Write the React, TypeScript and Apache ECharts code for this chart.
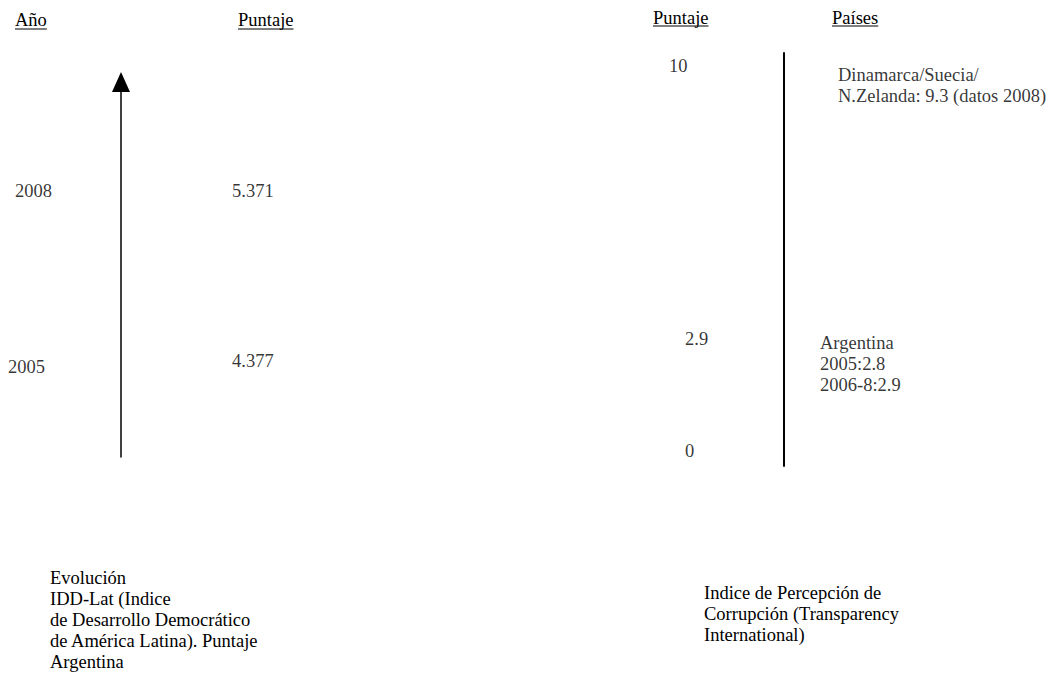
import React, { useEffect, useRef } from "react";
import * as echarts from "echarts";

// ---------------- data ----------------
const iddYears = [2005, 2008];
const iddYearLabels = ["2005", "2008"];
const iddScores = ["4.377", "5.371"];
const cpiTicks = [0, 2.9, 10];
const cpiTickLabels = ["0", "2.9", "10"];
const cpiNoteValues = [9.3, 2.9];
const cpiNoteTexts = [
  "Dinamarca/Suecia/\nN.Zelanda: 9.3 (datos 2008)",
  "Argentina\n2005:2.8\n2006-8:2.9",
];
const headerTexts = ["Año", "Puntaje", "Puntaje", "Países"];
const captionLeft = [
  "Evolución",
  "IDD-Lat (Indice",
  "de Desarrollo Democrático",
  "de América Latina). Puntaje",
  "Argentina",
];
const captionRight = [
  "Indice de Percepción de",
  "Corrupción (Transparency",
  "International)",
];

// ---------------- layout ----------------
const W = 1052;
const H = 682;
const FONT = "'Liberation Serif','Times New Roman',Times,serif";
const FS = 18.5;
const LH = 21;
const leftAxisX = 121;
const leftTop = 82;
const leftBottom = 457;
const yearMin = 2003.39;
const yearMax = 2009.89;
const rightAxisX = 784;
const rightTop = 53;
const rightBottom = 466;
const cpiMin = -0.39;
const cpiMax = 10.34;
const yearLabelX = [8, 15];
const yearLabelDy = [3, 0];
const scoreLabelX = 232;
const scoreLabelDy = [-3, 0];
const cpiTickX = [685, 685, 669];
const noteX = [838, 820];
const noteDy = [-8, 25];
const headerPos = [
  [15, 20, 29],
  [238, 20, 29],
  [653, 18, 26],
  [832, 18, 26],
];
const captionLeftPos = [50, 567];
const captionRightPos = [704, 582];

function measure(t: string): number {
  const c = document.createElement("canvas").getContext("2d");
  if (!c) return t.length * 8;
  c.font = `${FS}px "Liberation Serif"`;
  return c.measureText(t).width;
}

const textLabel = {
  show: true,
  position: "right" as const,
  distance: 0,
  color: "#000",
  fontFamily: FONT,
  fontSize: FS,
  lineHeight: LH,
  align: "left" as const,
};

export default function App() {
  const ref = useRef<HTMLDivElement>(null);
  useEffect(() => {
    if (!ref.current) return;
    const chart = echarts.init(ref.current, undefined, { renderer: "svg" });

    const graphic: any[] = [];
    headerTexts.forEach((t, i) => {
      const [x, y, uy] = headerPos[i];
      graphic.push({
        type: "text",
        x,
        y,
        style: { text: t, fill: "#000", fontFamily: FONT, fontSize: FS, align: "left", verticalAlign: "middle" },
      });
      graphic.push({
        type: "line",
        shape: { x1: x, y1: uy, x2: x + measure(t), y2: uy },
        style: { stroke: "#000", lineWidth: 1 },
      });
    });
    graphic.push({
      type: "text",
      x: captionLeftPos[0],
      y: captionLeftPos[1],
      style: { text: captionLeft.join("\n"), fill: "#000", fontFamily: FONT, fontSize: FS, lineHeight: LH, align: "left", verticalAlign: "top" },
    });
    graphic.push({
      type: "text",
      x: captionRightPos[0],
      y: captionRightPos[1],
      style: { text: captionRight.join("\n"), fill: "#000", fontFamily: FONT, fontSize: FS, lineHeight: LH, align: "left", verticalAlign: "top" },
    });

    chart.setOption({
      animation: false,
      backgroundColor: "#fff",
      grid: [
        { left: leftAxisX, right: 0, top: leftTop, height: leftBottom - leftTop, containLabel: false },
        { left: rightAxisX, right: 0, top: rightTop, height: rightBottom - rightTop, containLabel: false },
      ],
      xAxis: [
        { type: "value", gridIndex: 0, min: leftAxisX, max: W, show: false },
        { type: "value", gridIndex: 1, min: rightAxisX, max: W, show: false },
      ],
      yAxis: [
        {
          type: "value",
          gridIndex: 0,
          min: yearMin,
          max: yearMax,
          axisLine: {
            show: true,
            symbol: ["none", "triangle"],
            symbolSize: [18, 20],
            lineStyle: { color: "#000", width: 1.5 },
          },
          axisTick: { show: false },
          axisLabel: { show: false },
          splitLine: { show: false },
        },
        {
          type: "value",
          gridIndex: 1,
          min: cpiMin,
          max: cpiMax,
          axisLine: { show: true, lineStyle: { color: "#000", width: 2 } },
          axisTick: { show: false },
          axisLabel: { show: false },
          splitLine: { show: false },
        },
      ],
      graphic,
      series: [
        {
          type: "scatter",
          xAxisIndex: 0,
          yAxisIndex: 0,
          symbolSize: 0,
          clip: false,
          silent: true,
          data: iddYears.map((y, i) => ({
            value: [yearLabelX[i], y],
            name: iddYearLabels[i],
            label: { offset: [0, yearLabelDy[i]] },
          })),
          label: { ...textLabel, formatter: (p: any) => p.name },
        },
        {
          type: "scatter",
          xAxisIndex: 0,
          yAxisIndex: 0,
          symbolSize: 0,
          clip: false,
          silent: true,
          data: iddYears.map((y, i) => ({
            value: [scoreLabelX, y],
            name: iddScores[i],
            label: { offset: [0, scoreLabelDy[i]] },
          })),
          label: { ...textLabel, formatter: (p: any) => p.name },
        },
        {
          type: "scatter",
          xAxisIndex: 1,
          yAxisIndex: 1,
          symbolSize: 0,
          clip: false,
          silent: true,
          data: cpiTicks.map((v, i) => ({ value: [cpiTickX[i], v], name: cpiTickLabels[i] })),
          label: { ...textLabel, formatter: (p: any) => p.name },
        },
        {
          type: "scatter",
          xAxisIndex: 1,
          yAxisIndex: 1,
          symbolSize: 0,
          clip: false,
          silent: true,
          data: cpiNoteValues.map((v, i) => ({
            value: [noteX[i], v],
            name: cpiNoteTexts[i],
            label: { offset: [0, noteDy[i]] },
          })),
          label: { ...textLabel, formatter: (p: any) => p.name },
        },
      ],
    });
    return () => chart.dispose();
  }, []);
  return <div ref={ref} style={{ position: "absolute", left: 0, top: 0, width: W, height: H }} />;
}
